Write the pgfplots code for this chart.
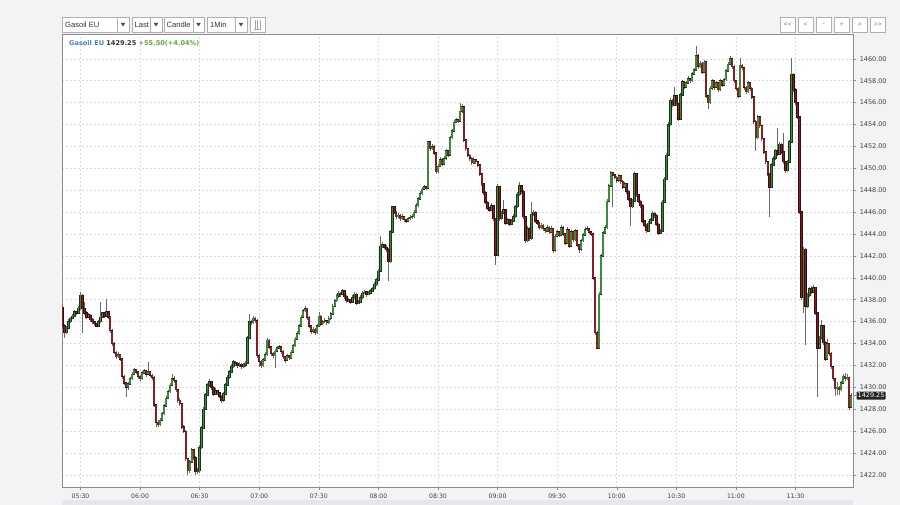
\documentclass[border=0pt]{standalone}
\usepackage{fontspec}
\setmainfont{DejaVu Sans}
\newfontfamily\lib{Liberation Sans}
\usepackage{pgfplots}
\pgfplotsset{compat=1.18}
\usepackage{pgfplotstable}
\definecolor{bg}{RGB}{242,243,245}
\definecolor{upc}{RGB}{58,140,58}
\definecolor{dnc}{RGB}{135,30,36}
\definecolor{wick}{RGB}{105,105,105}
\definecolor{legblue}{RGB}{70,128,200}
\definecolor{leggreen}{RGB}{95,170,60}
\definecolor{gridc}{RGB}{220,220,220}
\definecolor{boxc}{RGB}{175,175,175}
\definecolor{barc}{RGB}{230,231,234}
\pgfplotstableread{
t o h l c
321 1437.3 1437.6 1435.4 1435.6
322 1435.6 1435.8 1434.5 1435.0
323 1435.0 1435.6 1434.9 1435.4
324 1435.4 1436.2 1435.3 1436.0
325 1436.0 1436.4 1435.9 1436.3
326 1436.3 1436.7 1436.2 1436.5
327 1436.5 1437.1 1436.4 1436.9
328 1436.9 1437.0 1436.6 1436.8
329 1436.8 1437.4 1436.7 1437.2
330 1437.2 1438.7 1437.1 1438.4
331 1438.4 1438.5 1435.0 1437.2
332 1437.2 1437.8 1436.6 1436.8
333 1436.8 1437.0 1436.2 1436.4
334 1436.4 1436.8 1436.3 1436.6
335 1436.6 1436.7 1436.0 1436.2
336 1436.2 1436.3 1435.8 1436.0
337 1436.0 1436.1 1435.6 1435.8
338 1435.8 1435.9 1435.5 1435.6
339 1435.6 1436.2 1435.5 1436.0
340 1436.0 1437.8 1435.9 1436.4
341 1436.4 1436.9 1436.3 1436.8
342 1436.8 1436.9 1436.3 1436.5
343 1436.5 1438.1 1436.4 1436.9
344 1436.9 1437.0 1436.2 1436.4
345 1436.4 1436.5 1435.0 1435.2
346 1435.2 1435.3 1433.8 1434.0
347 1434.0 1434.1 1433.0 1433.2
348 1433.2 1433.3 1432.6 1432.8
349 1432.8 1433.2 1432.7 1433.0
350 1433.0 1433.1 1432.4 1432.6
351 1432.6 1432.7 1430.8 1431.0
352 1431.0 1431.1 1430.2 1430.4
353 1430.4 1430.5 1429.1 1430.0
354 1430.0 1430.5 1429.8 1430.3
355 1430.3 1431.0 1430.2 1430.8
356 1430.8 1431.4 1430.7 1431.2
357 1431.2 1431.8 1431.1 1431.6
358 1431.6 1431.7 1431.2 1431.4
359 1431.4 1431.5 1430.8 1431.0
360 1431.0 1431.1 1430.6 1430.8
361 1430.8 1431.5 1430.7 1431.3
362 1431.3 1431.7 1431.2 1431.5
363 1431.5 1431.6 1431.0 1431.2
364 1431.2 1432.3 1431.1 1431.4
365 1431.4 1431.5 1430.9 1431.1
366 1431.1 1431.2 1430.7 1430.9
367 1430.9 1431.0 1428.2 1428.4
368 1428.4 1428.5 1426.4 1426.8
369 1426.8 1427.0 1426.4 1426.6
370 1426.6 1427.2 1426.5 1427.0
371 1427.0 1427.8 1426.9 1427.6
372 1427.6 1428.5 1427.5 1428.3
373 1428.3 1429.2 1428.2 1429.0
374 1429.0 1429.8 1428.9 1429.6
375 1429.6 1430.4 1429.5 1430.2
376 1430.2 1431.2 1430.1 1430.8
377 1430.8 1431.0 1430.4 1430.6
378 1430.6 1430.7 1429.6 1429.8
379 1429.8 1429.9 1428.6 1428.8
380 1428.8 1429.0 1428.3 1428.5
381 1428.5 1428.6 1426.2 1426.4
382 1426.4 1426.6 1425.8 1426.0
383 1426.0 1426.1 1423.3 1423.5
384 1423.5 1423.6 1422.0 1422.4
385 1422.4 1423.4 1422.2 1423.2
386 1423.2 1424.5 1423.1 1424.3
387 1424.3 1424.4 1423.4 1423.6
388 1423.6 1423.7 1422.0 1422.3
389 1422.3 1422.6 1422.1 1422.4
390 1422.4 1424.7 1422.2 1424.5
391 1424.5 1426.5 1424.4 1426.3
392 1426.3 1428.2 1426.2 1428.0
393 1428.0 1429.5 1427.9 1429.3
394 1429.3 1430.4 1429.2 1430.2
395 1430.2 1430.8 1430.0 1430.5
396 1430.5 1430.6 1429.8 1430.0
397 1430.0 1430.1 1429.2 1429.4
398 1429.4 1429.9 1429.3 1429.7
399 1429.7 1429.8 1429.3 1429.5
400 1429.5 1429.6 1429.0 1429.2
401 1429.2 1429.3 1428.6 1428.8
402 1428.8 1429.6 1428.7 1429.4
403 1429.4 1430.4 1429.3 1430.2
404 1430.2 1431.1 1430.1 1430.9
405 1430.9 1431.6 1430.8 1431.4
406 1431.4 1432.1 1431.3 1431.9
407 1431.9 1432.5 1431.8 1432.3
408 1432.3 1432.4 1432.0 1432.2
409 1432.2 1432.3 1431.8 1432.0
410 1432.0 1432.3 1431.9 1432.1
411 1432.1 1432.2 1431.7 1431.9
412 1431.9 1432.2 1431.8 1432.0
413 1432.0 1432.4 1431.9 1432.2
414 1432.2 1434.7 1432.1 1434.5
415 1434.5 1436.7 1434.4 1436.0
416 1436.0 1436.2 1435.7 1435.9
417 1435.9 1436.5 1435.8 1436.3
418 1436.3 1436.4 1435.9 1436.1
419 1436.1 1436.2 1432.7 1432.9
420 1432.9 1433.0 1431.9 1432.4
421 1432.4 1432.5 1431.8 1432.0
422 1432.0 1432.7 1431.9 1432.5
423 1432.5 1433.2 1432.4 1433.0
424 1433.0 1434.5 1432.9 1434.3
425 1434.3 1434.4 1433.5 1433.7
426 1433.7 1433.8 1432.9 1433.1
427 1433.1 1433.2 1432.7 1432.9
428 1432.9 1433.5 1431.8 1433.3
429 1433.3 1433.8 1433.2 1433.6
430 1433.6 1433.9 1433.5 1433.7
431 1433.7 1433.8 1433.1 1433.3
432 1433.3 1433.4 1432.6 1432.8
433 1432.8 1432.9 1432.2 1432.5
434 1432.5 1433.1 1432.4 1432.9
435 1432.9 1433.0 1432.5 1432.7
436 1432.7 1433.4 1432.6 1433.2
437 1433.2 1434.0 1433.1 1433.8
438 1433.8 1434.6 1433.7 1434.4
439 1434.4 1435.1 1434.3 1434.9
440 1434.9 1435.8 1434.8 1435.6
441 1435.6 1436.6 1435.5 1436.4
442 1436.4 1437.2 1436.3 1437.0
443 1437.0 1437.4 1436.9 1437.2
444 1437.2 1437.3 1436.2 1436.4
445 1436.4 1436.5 1435.4 1435.6
446 1435.6 1435.7 1434.9 1435.1
447 1435.1 1435.5 1435.0 1435.3
448 1435.3 1435.4 1434.8 1435.0
449 1435.0 1435.8 1434.9 1435.6
450 1435.6 1436.9 1435.5 1436.5
451 1436.5 1436.6 1435.6 1435.8
452 1435.8 1436.2 1435.7 1436.0
453 1436.0 1436.3 1435.9 1436.1
454 1436.1 1436.2 1435.7 1435.9
455 1435.9 1436.5 1435.8 1436.3
456 1436.3 1436.9 1436.2 1436.7
457 1436.7 1437.6 1436.6 1437.4
458 1437.4 1438.1 1437.3 1437.9
459 1437.9 1438.5 1437.8 1438.3
460 1438.3 1438.8 1438.2 1438.6
461 1438.6 1438.7 1438.3 1438.5
462 1438.5 1439.0 1438.4 1438.8
463 1438.8 1438.9 1438.1 1438.3
464 1438.3 1438.4 1437.7 1437.9
465 1437.9 1438.2 1437.8 1438.0
466 1438.0 1438.1 1437.6 1437.8
467 1437.8 1438.4 1437.7 1438.2
468 1438.2 1438.7 1438.1 1438.5
469 1438.5 1438.6 1437.5 1437.7
470 1437.7 1438.0 1437.6 1437.8
471 1437.8 1438.4 1437.7 1438.2
472 1438.2 1438.8 1438.1 1438.6
473 1438.6 1438.9 1438.5 1438.7
474 1438.7 1438.8 1438.3 1438.5
475 1438.5 1438.8 1438.4 1438.6
476 1438.6 1439.0 1438.5 1438.8
477 1438.8 1439.2 1438.7 1439.0
478 1439.0 1439.6 1438.9 1439.4
479 1439.4 1440.0 1439.3 1439.8
480 1439.8 1440.8 1439.7 1440.6
481 1440.6 1443.8 1440.5 1442.9
482 1442.9 1443.3 1442.7 1443.0
483 1443.0 1443.1 1442.6 1442.8
484 1442.8 1443.0 1442.4 1442.6
485 1442.6 1442.7 1439.7 1441.5
486 1441.5 1444.4 1441.4 1444.2
487 1444.2 1446.6 1444.1 1446.5
488 1446.5 1446.6 1445.8 1446.0
489 1446.0 1446.1 1445.4 1445.6
490 1445.6 1445.9 1445.5 1445.7
491 1445.7 1445.8 1445.2 1445.4
492 1445.4 1445.8 1445.3 1445.6
493 1445.6 1445.7 1445.1 1445.3
494 1445.3 1445.4 1445.0 1445.2
495 1445.2 1445.6 1445.1 1445.4
496 1445.4 1445.7 1445.3 1445.5
497 1445.5 1445.8 1445.4 1445.6
498 1445.6 1446.2 1445.5 1446.0
499 1446.0 1446.8 1445.9 1446.6
500 1446.6 1447.4 1446.5 1447.2
501 1447.2 1447.9 1447.1 1447.7
502 1447.7 1448.3 1447.6 1448.1
503 1448.1 1448.5 1448.0 1448.3
504 1448.3 1448.4 1448.0 1448.2
505 1448.2 1452.5 1448.1 1452.4
506 1452.4 1452.5 1451.6 1451.8
507 1451.8 1452.2 1451.7 1452.0
508 1452.0 1452.1 1451.2 1451.4
509 1451.4 1451.5 1449.5 1449.7
510 1449.7 1450.4 1449.6 1450.2
511 1450.2 1451.0 1450.1 1450.8
512 1450.8 1450.9 1450.2 1450.4
513 1450.4 1451.1 1450.3 1450.9
514 1450.9 1451.8 1450.8 1451.6
515 1451.6 1451.7 1451.0 1451.2
516 1451.2 1453.0 1451.1 1452.8
517 1452.8 1453.6 1452.7 1453.4
518 1453.4 1454.4 1453.3 1454.2
519 1454.2 1454.6 1454.1 1454.4
520 1454.4 1454.5 1454.1 1454.3
521 1454.3 1456.0 1454.2 1455.2
522 1455.2 1455.9 1455.1 1455.6
523 1455.6 1455.7 1452.4 1452.6
524 1452.6 1452.7 1451.6 1451.8
525 1451.8 1451.9 1451.0 1451.2
526 1451.2 1451.3 1450.7 1450.9
527 1450.9 1451.0 1450.3 1450.5
528 1450.5 1451.0 1450.4 1450.8
529 1450.8 1450.9 1450.4 1450.6
530 1450.6 1450.7 1450.1 1450.3
531 1450.3 1450.4 1449.3 1449.5
532 1449.5 1449.6 1448.4 1448.6
533 1448.6 1448.7 1447.6 1447.8
534 1447.8 1447.9 1446.7 1446.9
535 1446.9 1447.0 1446.2 1446.4
536 1446.4 1446.5 1446.0 1446.2
537 1446.2 1446.8 1446.1 1446.6
538 1446.6 1446.7 1445.2 1445.4
539 1445.4 1445.5 1441.2 1442.1
540 1442.1 1448.6 1442.0 1448.3
541 1448.3 1448.4 1445.2 1445.4
542 1445.4 1446.1 1445.3 1445.9
543 1445.9 1447.1 1445.8 1446.2
544 1446.2 1446.3 1444.8 1445.0
545 1445.0 1445.5 1444.9 1445.3
546 1445.3 1445.4 1444.7 1444.9
547 1444.9 1445.4 1444.8 1445.2
548 1445.2 1445.8 1445.1 1445.6
549 1445.6 1446.7 1445.5 1446.5
550 1446.5 1447.8 1446.4 1447.6
551 1447.6 1448.8 1447.5 1448.4
552 1448.4 1448.5 1447.7 1447.9
553 1447.9 1448.0 1445.4 1445.6
554 1445.6 1445.7 1443.2 1443.4
555 1443.4 1444.7 1443.3 1444.5
556 1444.5 1444.6 1443.4 1443.6
557 1443.6 1446.9 1443.5 1445.8
558 1445.8 1446.2 1445.7 1446.0
559 1446.0 1446.1 1445.0 1445.2
560 1445.2 1445.3 1444.8 1445.0
561 1445.0 1445.1 1444.4 1444.6
562 1444.6 1445.0 1444.5 1444.8
563 1444.8 1444.9 1444.3 1444.5
564 1444.5 1444.6 1444.1 1444.3
565 1444.3 1444.8 1444.2 1444.6
566 1444.6 1444.7 1444.0 1444.2
567 1444.2 1444.7 1444.1 1444.5
568 1444.5 1444.6 1442.3 1442.5
569 1442.5 1444.0 1442.4 1443.8
570 1443.8 1444.4 1443.7 1444.2
571 1444.2 1444.3 1443.7 1443.9
572 1443.9 1444.8 1443.8 1444.6
573 1444.6 1444.7 1443.8 1444.0
574 1444.0 1444.1 1443.0 1443.2
575 1443.2 1444.6 1443.1 1444.4
576 1444.4 1444.5 1442.7 1442.9
577 1442.9 1444.4 1442.8 1444.2
578 1444.2 1444.3 1443.3 1443.5
579 1443.5 1444.5 1443.4 1444.3
580 1444.3 1444.4 1442.8 1443.0
581 1443.0 1443.1 1442.3 1442.6
582 1442.6 1443.6 1442.5 1443.4
583 1443.4 1444.1 1443.3 1443.9
584 1443.9 1444.6 1443.8 1444.4
585 1444.4 1444.7 1444.3 1444.5
586 1444.5 1444.6 1444.0 1444.2
587 1444.2 1444.3 1443.8 1444.0
588 1444.0 1444.1 1439.8 1440.0
589 1440.0 1440.1 1434.8 1435.0
590 1435.0 1435.2 1433.5 1433.6
591 1433.6 1438.7 1433.5 1438.5
592 1438.5 1442.2 1438.4 1442.0
593 1442.0 1444.3 1441.9 1444.1
594 1444.1 1444.8 1444.0 1444.6
595 1444.6 1447.2 1444.5 1447.0
596 1447.0 1448.6 1446.9 1448.4
597 1448.4 1449.8 1448.3 1449.6
598 1449.6 1449.7 1446.5 1449.4
599 1449.4 1449.5 1449.0 1449.2
600 1449.2 1449.3 1448.7 1448.9
601 1448.9 1449.5 1448.8 1449.3
602 1449.3 1449.4 1448.6 1448.8
603 1448.8 1448.9 1448.1 1448.3
604 1448.3 1448.8 1448.2 1448.6
605 1448.6 1448.7 1447.7 1447.9
606 1447.9 1448.0 1447.0 1447.2
607 1447.2 1447.3 1444.7 1446.5
608 1446.5 1447.2 1446.4 1447.0
609 1447.0 1449.7 1446.9 1449.5
610 1449.5 1449.6 1447.4 1447.6
611 1447.6 1447.7 1446.8 1447.0
612 1447.0 1447.1 1446.4 1446.6
613 1446.6 1446.7 1445.0 1445.2
614 1445.2 1445.3 1444.6 1444.8
615 1444.8 1444.9 1444.1 1444.3
616 1444.3 1445.2 1444.2 1445.0
617 1445.0 1445.5 1444.9 1445.3
618 1445.3 1446.1 1445.2 1445.9
619 1445.9 1446.0 1445.5 1445.7
620 1445.7 1445.8 1444.7 1444.9
621 1444.9 1445.0 1443.9 1444.1
622 1444.1 1444.5 1444.0 1444.3
623 1444.3 1447.1 1444.2 1446.9
624 1446.9 1449.2 1446.8 1449.0
625 1449.0 1451.4 1448.9 1451.2
626 1451.2 1454.2 1451.1 1454.0
627 1454.0 1456.4 1453.9 1456.2
628 1456.2 1456.3 1455.6 1455.8
629 1455.8 1457.4 1455.7 1456.6
630 1456.6 1456.7 1455.7 1455.9
631 1455.9 1456.0 1454.3 1454.5
632 1454.5 1456.9 1454.4 1456.7
633 1456.7 1458.1 1456.6 1457.9
634 1457.9 1458.0 1457.2 1457.4
635 1457.4 1458.0 1457.3 1457.8
636 1457.8 1458.4 1457.7 1458.2
637 1458.2 1458.3 1457.8 1458.0
638 1458.0 1458.8 1457.9 1458.6
639 1458.6 1459.2 1458.5 1459.0
640 1459.0 1461.2 1458.9 1460.3
641 1460.3 1460.4 1459.1 1459.3
642 1459.3 1459.8 1459.2 1459.6
643 1459.6 1459.7 1458.6 1458.8
644 1458.8 1459.9 1458.7 1459.7
645 1459.7 1459.8 1456.4 1456.6
646 1456.6 1456.7 1455.4 1456.0
647 1456.0 1457.5 1455.9 1457.3
648 1457.3 1458.2 1457.2 1458.0
649 1458.0 1458.1 1457.2 1457.4
650 1457.4 1458.0 1457.3 1457.8
651 1457.8 1457.9 1457.0 1457.2
652 1457.2 1458.2 1457.1 1458.0
653 1458.0 1458.1 1457.4 1457.6
654 1457.6 1458.3 1457.5 1458.1
655 1458.1 1459.1 1458.0 1458.9
656 1458.9 1459.7 1458.8 1459.5
657 1459.5 1460.3 1459.4 1460.0
658 1460.0 1460.1 1459.1 1459.3
659 1459.3 1459.4 1457.8 1458.0
660 1458.0 1458.1 1457.1 1457.3
661 1457.3 1457.4 1456.4 1456.6
662 1456.6 1460.1 1456.5 1459.4
663 1459.4 1459.5 1459.0 1459.2
664 1459.2 1459.3 1457.2 1457.4
665 1457.4 1457.5 1456.8 1457.0
666 1457.0 1458.0 1456.9 1457.8
667 1457.8 1457.9 1457.1 1457.3
668 1457.3 1457.4 1456.3 1456.5
669 1456.5 1456.6 1454.1 1454.3
670 1454.3 1454.4 1451.6 1452.8
671 1452.8 1454.9 1452.7 1454.7
672 1454.7 1454.8 1453.7 1453.9
673 1453.9 1454.0 1452.5 1452.7
674 1452.7 1452.8 1451.3 1451.5
675 1451.5 1451.6 1450.4 1450.6
676 1450.6 1450.7 1449.3 1449.5
677 1449.5 1449.6 1445.6 1448.3
678 1448.3 1450.5 1448.2 1450.3
679 1450.3 1451.1 1450.2 1450.9
680 1450.9 1451.8 1450.8 1451.6
681 1451.6 1453.7 1451.1 1451.3
682 1451.3 1452.4 1451.2 1452.2
683 1452.2 1452.3 1451.3 1451.5
684 1451.5 1453.2 1450.4 1450.6
685 1450.6 1450.7 1449.6 1449.8
686 1449.8 1450.8 1449.7 1450.6
687 1450.6 1452.6 1450.5 1452.4
688 1452.4 1460.1 1452.3 1458.6
689 1458.6 1458.7 1457.0 1457.2
690 1457.2 1457.3 1455.8 1456.0
691 1456.0 1456.1 1454.5 1454.7
692 1454.7 1454.8 1445.8 1446.0
693 1446.0 1446.1 1438.0 1438.2
694 1438.2 1442.8 1436.8 1442.6
695 1442.6 1442.7 1433.9 1437.4
696 1437.4 1438.6 1437.3 1438.4
697 1438.4 1439.2 1438.3 1439.0
698 1439.0 1439.3 1438.5 1438.7
699 1438.7 1439.3 1438.6 1439.1
700 1439.1 1439.2 1436.6 1436.8
701 1436.8 1436.9 1429.1 1433.6
702 1433.6 1434.7 1433.5 1434.5
703 1434.5 1436.2 1434.4 1435.6
704 1435.6 1435.7 1433.9 1434.1
705 1434.1 1434.2 1432.4 1432.6
706 1432.6 1434.4 1432.5 1434.0
707 1434.0 1434.1 1432.9 1433.1
708 1433.1 1433.2 1431.7 1431.9
709 1431.9 1432.0 1430.6 1430.8
710 1430.8 1430.9 1429.2 1429.9
711 1429.9 1430.5 1429.3 1430.0
712 1430.0 1430.1 1429.3 1429.8
713 1429.8 1430.6 1429.7 1430.4
714 1430.4 1431.2 1430.3 1431.0
715 1431.0 1431.3 1430.6 1430.8
716 1430.8 1431.2 1430.7 1430.9
717 1430.9 1431.0 1427.9 1428.2
718 1428.2 1429.5 1428.1 1429.25
}\candles
\begin{document}
\begin{tikzpicture}
\useasboundingbox (0,0) rectangle (900bp,505bp);
\fill[bg] (0,0) rectangle (900bp,505bp);
\fill[barc] (62bp,0) rectangle (853bp,5bp);
\begin{axis}[
  at={(62.3bp,18bp)}, anchor=south west,
  scale only axis, width=791bp, height=452.5bp,
  xmin=320.84, xmax=719.1, ymin=1420.9, ymax=1462.22,
  axis background/.style={fill=white},
  axis line style={draw=black!45, line width=0.6bp},
  xtick={330,360,390,420,450,480,510,540,570,600,630,660,690},
  xticklabels={05:30,06:00,06:30,07:00,07:30,08:00,08:30,09:00,09:30,10:00,10:30,11:00,11:30},
  ytick={1422,1424,1426,1428,1430,1432,1434,1436,1438,1440,1442,1444,1446,1448,1450,1452,1454,1456,1458,1460},
  yticklabels={1422.00,1424.00,1426.00,1428.00,1430.00,1432.00,1434.00,1436.00,1438.00,1440.00,1442.00,1444.00,1446.00,1448.00,1450.00,1452.00,1454.00,1456.00,1458.00,1460.00},
  xtick pos=lower, ytick pos=right, yticklabel pos=right,
  tick align=outside, major tick length=3bp,
  tick style={draw=black!45, line width=0.5bp},
  grid=major,
  major grid style={draw=gridc, dash pattern=on 2bp off 2bp, line width=0.6bp},
  xticklabel style={font=\fontsize{6.2}{7}\selectfont, text=black!75},
  yticklabel style={font=\fontsize{6.5}{7}\selectfont, text=black!75},
  extra y ticks={1429.25}, extra y tick labels={1429.25},
  extra y tick style={grid=none, yticklabel style={fill=black!85, text=white, inner xsep=1.2bp, inner ysep=1.6bp, rounded corners=1bp}},
  clip=true,
]
% wicks
\addplot[draw=none, forget plot, error bars/.cd, y dir=both, y explicit, error mark=none,
  error bar style={draw=wick, line width=0.65bp, solid}]
  table[x=t, y expr={(\thisrow{h}+\thisrow{l})/2}, y error expr={(\thisrow{h}-\thisrow{l})/2}] {\candles};
% up body outline
\addplot[draw=none, forget plot, restrict expr to domain={\thisrow{c}-\thisrow{o}}{0:100},
  error bars/.cd, y dir=both, y explicit, error mark=none,
  error bar style={draw=upc!40!black, line width=2.4bp, solid}]
  table[x=t, y expr={(\thisrow{o}+\thisrow{c})/2}, y error expr={abs(\thisrow{c}-\thisrow{o})/2+0.06}] {\candles};
% down body outline
\addplot[draw=none, forget plot, restrict expr to domain={\thisrow{c}-\thisrow{o}}{-100:-0.001},
  error bars/.cd, y dir=both, y explicit, error mark=none,
  error bar style={draw=dnc!40!black, line width=2.4bp, solid}]
  table[x=t, y expr={(\thisrow{o}+\thisrow{c})/2}, y error expr={abs(\thisrow{c}-\thisrow{o})/2+0.06}] {\candles};
% up body fill
\addplot[draw=none, forget plot, restrict expr to domain={\thisrow{c}-\thisrow{o}}{0:100},
  error bars/.cd, y dir=both, y explicit, error mark=none,
  error bar style={draw=upc, line width=1.6bp, solid}]
  table[x=t, y expr={(\thisrow{o}+\thisrow{c})/2}, y error expr={abs(\thisrow{c}-\thisrow{o})/2}] {\candles};
% down body fill
\addplot[draw=none, forget plot, restrict expr to domain={\thisrow{c}-\thisrow{o}}{-100:-0.001},
  error bars/.cd, y dir=both, y explicit, error mark=none,
  error bar style={draw=dnc, line width=1.6bp, solid}]
  table[x=t, y expr={(\thisrow{o}+\thisrow{c})/2}, y error expr={abs(\thisrow{c}-\thisrow{o})/2}] {\candles};
\end{axis}
% legend line
\node[anchor=west, inner sep=0, font=\bfseries\fontsize{6.6}{8}\selectfont] at (69bp,462bp)
  {\textcolor{legblue}{Gasoil EU} \textcolor{black!80}{1429.25} \textcolor{leggreen}{+55.50(+4.04\%)}};
% toolbar
\begin{scope}[draw=boxc, line width=0.6bp]
\filldraw[fill=white] (62bp,473bp) rectangle (129bp,488bp);
\draw (117bp,473bp) -- (117bp,488bp);
\filldraw[fill=white] (132bp,473bp) rectangle (162bp,488bp);
\draw (150bp,473bp) -- (150bp,488bp);
\filldraw[fill=white] (164bp,473bp) rectangle (204bp,488bp);
\draw (193bp,473bp) -- (193bp,488bp);
\filldraw[fill=white] (207bp,473bp) rectangle (247bp,488bp);
\draw (235bp,473bp) -- (235bp,488bp);
\filldraw[fill=white] (250bp,473bp) rectangle (265bp,488bp);
\end{scope}
\begin{scope}[every node/.style={inner sep=0, font=\lib\fontsize{7.6}{9}\selectfont, text=black!80}]
\node[anchor=west] at (65bp,480.5bp) {Gasoil EU};
\node[anchor=west] at (134.5bp,480.5bp) {Last};
\node[anchor=west] at (166.5bp,480.5bp) {Candle};
\node[anchor=west] at (210bp,480.5bp) {1Min};
\end{scope}
\foreach \ax in {123,156,198.5,241}{
  \fill[black!70] (\ax bp-2.2bp,482bp) -- (\ax bp+2.2bp,482bp) -- (\ax bp,478.5bp) -- cycle;
}
\draw[black!35, line width=0.5bp] (254bp,476bp) -- (261bp,476bp);
\foreach \ix in {255,257.5,260}{\draw[black!35, line width=0.5bp] (\ix bp,476bp) -- (\ix bp,485bp);}
% right buttons
\foreach \bx/\bl in {780/{<<},798/{<},816/{-},834/{+},852/{>},870/{>>}}{
  \filldraw[fill=white, draw=boxc, line width=0.6bp] (\bx bp,473bp) rectangle ++(15.5bp,15bp);
  \node[inner sep=0, font=\lib\fontsize{6.5}{8}\selectfont, text=black!55] at (\bx bp+7.75bp,480.5bp) {\bl};
}
\end{tikzpicture}
\end{document}
